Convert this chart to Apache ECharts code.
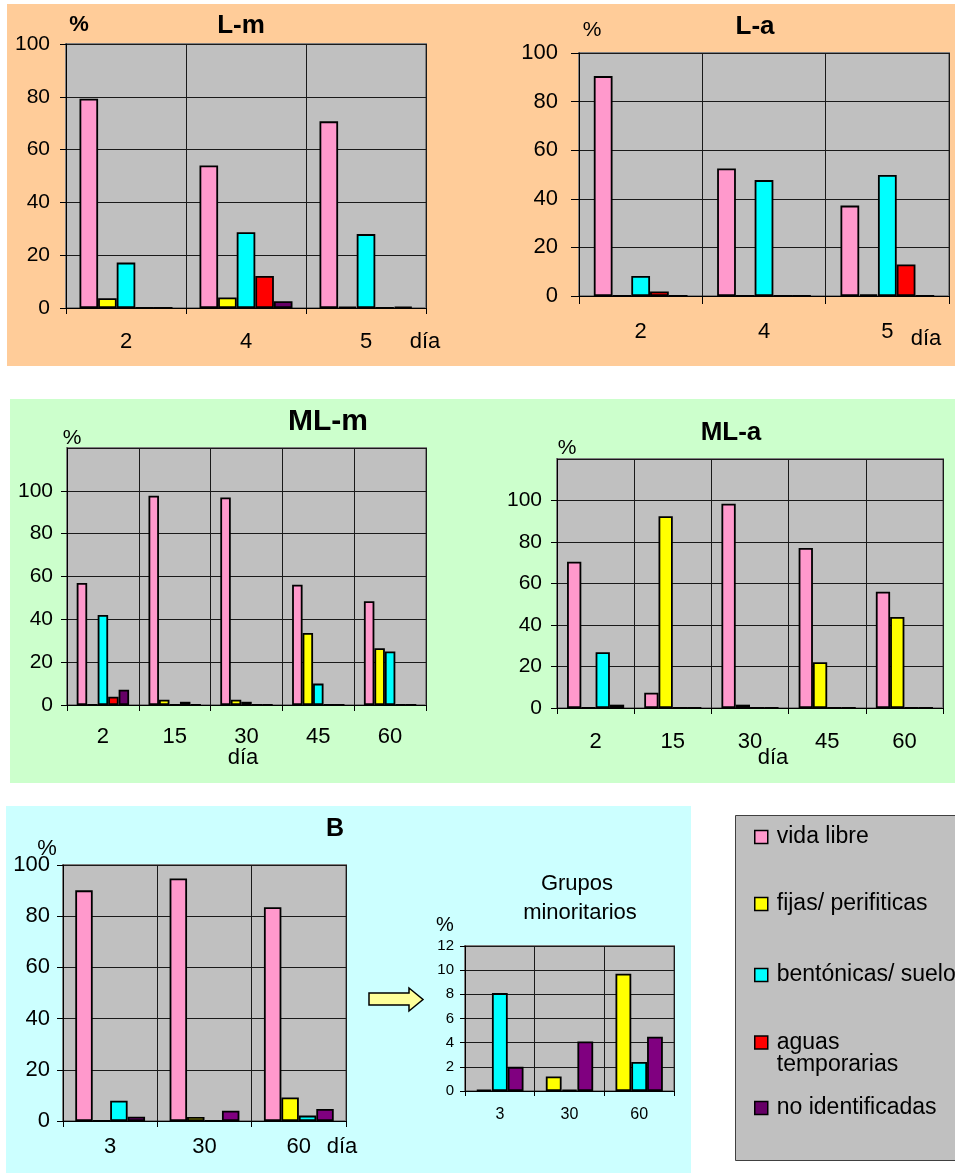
<!DOCTYPE html>
<html><head><meta charset="utf-8">
<script src="https://cdn.jsdelivr.net/npm/echarts@6/dist/echarts.min.js"></script>
<style>html,body{margin:0;padding:0;background:#fff}#c{width:955px;height:1173px}</style>
</head><body><div id="c"></div>
<script>
// ---- series names / colours ----
const NAMES = ['vida libre','fijas/ perifiticas','bentónicas/ suelo','aguas temporarias','no identificadas'];
const COLORS = ['#FF99CC','#FFFF00','#00FFFF','#FF0000','#660066'];

// ---- L-m ----
const lmDays  = ['2','4','5'];
const lmVida  = [79.3, 54, 70.7];
const lmFijas = [3.7, 4, 0.5];
const lmBent  = [17.2, 28.7, 28];
const lmAguas = [0, 12.1, 0];
const lmNoId  = [0, 2.6, 0.5];

// ---- L-a ----
const laDays  = ['2','4','5'];
const laVida  = [90.5, 52.5, 37.2];
const laFijas = [0, 0, 0.6];
const laBent  = [8.2, 47.7, 49.8];
const laAguas = [1.9, 0, 13];
const laNoId  = [0, 0, 0];

// ---- ML-m ----
const mlmDays  = ['2','15','30','45','60'];
const mlmVida  = [57, 97.7, 96.9, 56.2, 48.5];
const mlmFijas = [0, 2.5, 2.5, 33.6, 26.5];
const mlmBent  = [42, 0, 1.5, 10, 25];
const mlmAguas = [3.9, 1.5, 0, 0, 0];
const mlmNoId  = [7.1, 0, 0, 0, 0];

// ---- ML-a ----
const mlaDays  = ['2','15','30','45','60'];
const mlaVida  = [70.5, 7.4, 98.4, 77.1, 56];
const mlaFijas = [0, 92.4, 1.6, 22.1, 43.9];
const mlaBent  = [26.9, 0, 0, 0, 0];
const mlaNoId  = [1.6, 0, 0, 0, 0];

// ---- B ----
const bDays  = ['3','30','60'];
const bVida  = [90.1, 94.7, 83.5];
const bFijas = [0, 1.6, 9.2];
const bBent  = [7.9, 0, 2.1];
const bNoId  = [1.7, 4, 4.7];

// ---- Grupos minoritarios ----
const gDays  = ['3','30','60'];
const gFijas = [0.1, 1.2, 9.7];
const gBent  = [8.1, 0.1, 2.4];
const gNoId  = [2.0, 4.1, 4.5];

const FONT = '"Liberation Sans", Arial, sans-serif';

const panels = [
  {box:[66,44,360,264], days:lmDays, max:100, interval:20, gap:'22.5%', yFs:21, yMargin:16, xFs:22, xMargin:23, tick:6,
   series:[[0,lmVida],[1,lmFijas],[2,lmBent],[3,lmAguas],[4,lmNoId]]},
  {box:[579,53,370,243], days:laDays, max:100, interval:20, gap:'24%', yFs:22, yMargin:21, xFs:22, xMargin:25, tick:8,
   series:[[0,laVida],[1,laFijas],[2,laBent],[3,laAguas],[4,laNoId]]},
  {box:[67,448,359,257], days:mlmDays, max:120, interval:20, gap:'27%', yFs:21, yMargin:14, xFs:22, xMargin:21, tick:6, hideMax:true,
   series:[[0,mlmVida],[1,mlmFijas],[2,mlmBent],[3,mlmAguas],[4,mlmNoId]]},
  {box:[557,459,386,249], days:mlaDays, max:120, interval:20, gap:'26%', yFs:21, yMargin:15, xFs:22, xMargin:23, tick:6, hideMax:true,
   series:[[0,mlaVida],[1,mlaFijas],[2,mlaBent],[4,mlaNoId]]},
  {box:[63,865,283,256], days:bDays, max:100, interval:20, gap:'26%', yFs:22, yMargin:13, xFs:22, xMargin:15, tick:6,
   series:[[0,bVida],[1,bFijas],[2,bBent],[4,bNoId]], purple:'#800080'},
  {box:[465,946,209,145], days:gDays, max:12, interval:2, gap:'32%', yFs:15, yMargin:11, xFs:16, xMargin:16, tick:5,
   series:[[1,gFijas],[2,gBent],[4,gNoId]], purple:'#800080'}
];

const grid=[], xAxis=[], yAxis=[], series=[];
panels.forEach((p,i)=>{
  grid.push({left:p.box[0], top:p.box[1], width:p.box[2], height:p.box[3], show:true,
    backgroundColor:'#C0C0C0', borderColor:'#808080', borderWidth:2});
  xAxis.push({gridIndex:i, type:'category', data:p.days,
    axisLine:{show:true, lineStyle:{color:'#000', width:1}},
    axisTick:{show:true, length:p.tick, interval:0, lineStyle:{color:'#000'}},
    axisLabel:{color:'#000', fontSize:p.xFs, fontFamily:FONT, margin:p.xMargin, interval:0},
    splitLine:{show:true, interval:0, lineStyle:{color:'#1a1a1a', width:1}}});
  yAxis.push({gridIndex:i, type:'value', min:0, max:p.max, interval:p.interval,
    axisLine:{show:true, lineStyle:{color:'#000', width:1}},
    axisTick:{show:true, length:p.tick, lineStyle:{color:'#000'}},
    axisLabel:{color:'#000', fontSize:p.yFs, fontFamily:FONT, margin:p.yMargin, showMaxLabel:!p.hideMax},
    splitLine:{show:true, lineStyle:{color:'#1a1a1a', width:1}}});
  p.series.forEach(([k,data])=>{
    let col = COLORS[k];
    if (k===4 && p.purple) col = p.purple;
    series.push({type:'bar', name:NAMES[k], xAxisIndex:i, yAxisIndex:i, data:data,
      barGap:'0%', barCategoryGap:p.gap, animation:false,
      itemStyle:{color:col, borderColor:'#000', borderWidth:1.8}});
  });
});

function txt(x,y,t,size,bold){
  return {type:'text', x:x, y:y, z:10, silent:true,
    style:{text:t, font:(bold?'bold ':'')+size+'px '+FONT, fill:'#000', align:'center', verticalAlign:'middle'}};
}

const graphic = [
  {type:'rect', z:-100, silent:true, shape:{x:7,y:4,width:948,height:362}, style:{fill:'#FFCC99'}},
  {type:'rect', z:-100, silent:true, shape:{x:10,y:399,width:945,height:384}, style:{fill:'#CCFFCC'}},
  {type:'rect', z:-100, silent:true, shape:{x:6,y:806,width:685,height:367}, style:{fill:'#CCFFFF'}},
  {type:'rect', z:-90, silent:true, shape:{x:735.5,y:815.5,width:240,height:345}, style:{fill:'#C0C0C0', stroke:'#404040', lineWidth:1}},
  {type:'polygon', z:5, silent:true, shape:{points:[[369,993],[409,993],[409,988],[423,999.5],[409,1011],[409,1005],[369,1005]]},
    style:{fill:'#FFFF99', stroke:'#000', lineWidth:1.5}},
  // titles
  txt(241,26,'L-m',26,true),
  txt(755,27,'L-a',26,true),
  txt(328,422,'ML-m',30,true),
  txt(731,433,'ML-a',26,true),
  txt(335,829,'B',25,true),
  txt(577,884,'Grupos',22,false),
  txt(580,913,'minoritarios',22,false),
  // % labels
  txt(79,25,'%',22,true),
  txt(592,30,'%',21,false),
  txt(72,438,'%',21,false),
  txt(567,448,'%',21,false),
  txt(47,849,'%',22,false),
  txt(445,925,'%',20,false),
  // día labels
  txt(425,342,'día',22,false),
  txt(926,339,'día',22,false),
  txt(243,758,'día',22,false),
  txt(773,758,'día',22,false),
  txt(342,1147,'día',22,false)
];

const legendCenters = [837, 904, 975, 1042, 1108];
const legend = NAMES.map((n,i)=>{
  const multi = (i===3);
  return {
    data:[n], left:754, top: multi ? legendCenters[i]-33 : legendCenters[i]-11.5,
    orient:'vertical', padding:0, itemWidth:13, itemHeight:13, icon:'rect',
    itemStyle:{borderColor:'#000', borderWidth:1.5},
    formatter: multi ? '\naguas\ntemporarias' : '{name}',
    textStyle:{fontSize:23, fontFamily:FONT, color:'#000', lineHeight:22, padding:[0,0,0,4]}
  };
});

const chart = echarts.init(document.getElementById('c'), null, {renderer:'canvas'});
chart.setOption({
  animation:false,
  backgroundColor:'#ffffff',
  grid, xAxis, yAxis, series, legend, graphic
});
</script>
</body></html>
